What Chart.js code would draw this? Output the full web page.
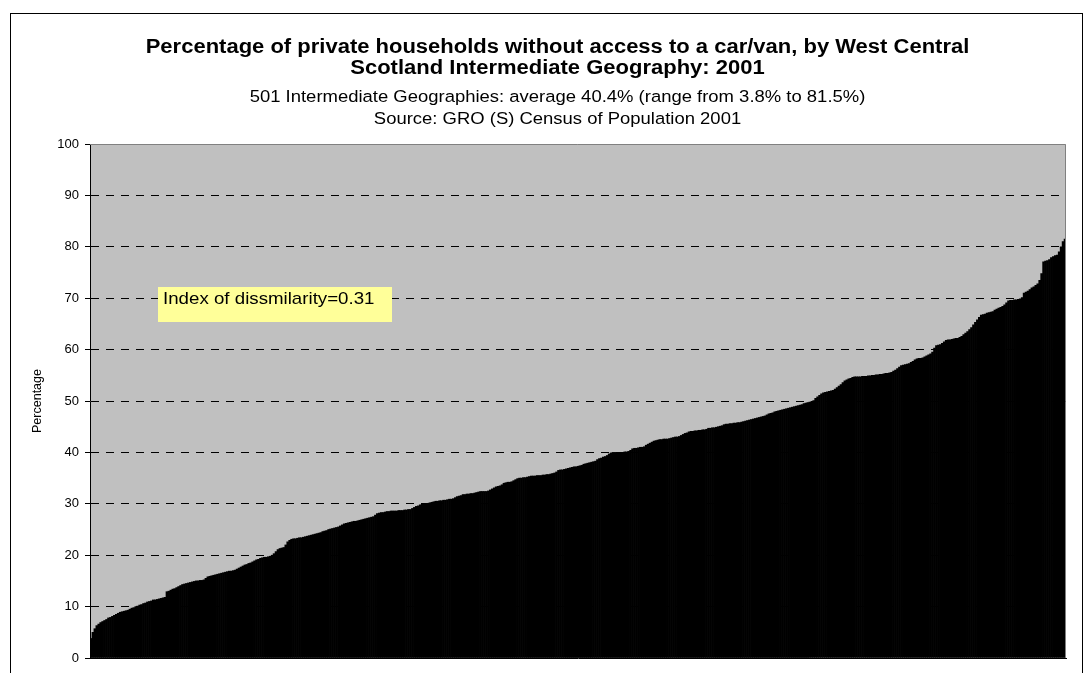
<!DOCTYPE html>
<html>
<head>
<meta charset="utf-8">
<script src="https://cdn.jsdelivr.net/npm/chart.js@4.4.1/dist/chart.umd.min.js"></script>
<style>
  html, body { margin: 0; padding: 0; background: #fff; }
  canvas { display: block; }
</style>
</head>
<body>
<canvas id="chart" width="1091" height="673"></canvas>
<script>
// Chart text
const titleLines = [
  'Percentage of private households without access to a car/van, by West Central',
  'Scotland Intermediate Geography: 2001'
];
const subtitleLines = [
  '501 Intermediate Geographies: average 40.4% (range from 3.8% to 81.5%)',
  'Source: GRO (S) Census of Population 2001'
];
const yAxisTitle = 'Percentage';
const annotationText = 'Index of dissmilarity=0.31';

// Y axis ticks
const yTicks = [0, 10, 20, 30, 40, 50, 60, 70, 80, 90, 100];

// Percentage of households without a car/van, one value per Intermediate Geography, sorted ascending
const percentages = [
  3.8, 5.0, 5.7, 6.3, 6.6, 6.9, 7.1, 7.3, 7.5, 7.8,
  7.9, 8.1, 8.3, 8.5, 8.7, 8.9, 9.0, 9.1, 9.2, 9.3,
  9.5, 9.7, 9.8, 10.0, 10.1, 10.3, 10.4, 10.6, 10.7, 10.9,
  11.0, 11.1, 11.3, 11.3, 11.4, 11.5, 11.6, 11.7, 11.8, 12.9,
  13.0, 13.2, 13.4, 13.5, 13.7, 13.9, 14.1, 14.3, 14.4, 14.5,
  14.6, 14.7, 14.8, 14.9, 15.0, 15.0, 15.1, 15.1, 15.2, 15.5,
  15.8, 15.9, 16.0, 16.1, 16.2, 16.3, 16.4, 16.5, 16.6, 16.7,
  16.8, 16.9, 16.9, 17.0, 17.1, 17.3, 17.5, 17.7, 17.9, 18.1,
  18.2, 18.4, 18.5, 18.7, 18.9, 19.1, 19.2, 19.4, 19.5, 19.6,
  19.6, 19.7, 19.8, 20.0, 20.3, 20.7, 21.1, 21.3, 21.4, 21.5,
  22.0, 22.6, 22.9, 23.1, 23.2, 23.2, 23.3, 23.4, 23.4, 23.5,
  23.6, 23.7, 23.8, 23.9, 24.0, 24.1, 24.2, 24.3, 24.4, 24.6,
  24.7, 24.8, 25.0, 25.1, 25.2, 25.3, 25.4, 25.5, 25.7, 25.9,
  26.1, 26.2, 26.3, 26.4, 26.5, 26.6, 26.6, 26.7, 26.8, 26.9,
  27.0, 27.1, 27.2, 27.3, 27.4, 27.5, 27.8, 28.1, 28.2, 28.3,
  28.3, 28.4, 28.5, 28.5, 28.6, 28.6, 28.6, 28.6, 28.7, 28.7,
  28.7, 28.8, 28.8, 28.9, 28.9, 29.1, 29.3, 29.5, 29.6, 29.8,
  29.9, 30.0, 30.0, 30.1, 30.2, 30.3, 30.4, 30.5, 30.5, 30.6,
  30.6, 30.7, 30.7, 30.8, 30.9, 30.9, 31.0, 31.2, 31.4, 31.5,
  31.6, 31.8, 31.8, 31.9, 31.9, 32.0, 32.0, 32.1, 32.2, 32.3,
  32.4, 32.4, 32.4, 32.4, 32.5, 32.7, 32.9, 33.1, 33.3, 33.4,
  33.5, 33.7, 34.0, 34.1, 34.2, 34.2, 34.3, 34.5, 34.7, 34.9,
  35.0, 35.0, 35.1, 35.1, 35.2, 35.3, 35.4, 35.4, 35.4, 35.5,
  35.5, 35.5, 35.6, 35.6, 35.7, 35.7, 35.8, 35.9, 36.0, 36.2,
  36.5, 36.6, 36.6, 36.7, 36.8, 36.9, 37.0, 37.1, 37.2, 37.2,
  37.3, 37.4, 37.5, 37.7, 37.8, 37.9, 38.0, 38.1, 38.2, 38.3,
  38.6, 38.8, 38.9, 39.1, 39.2, 39.4, 39.7, 39.9, 40.0, 40.0,
  40.0, 40.0, 40.0, 40.0, 40.1, 40.1, 40.2, 40.4, 40.7, 40.8,
  40.8, 40.9, 41.0, 41.0, 41.1, 41.4, 41.6, 41.8, 42.0, 42.2,
  42.3, 42.4, 42.5, 42.5, 42.6, 42.6, 42.6, 42.7, 42.8, 42.9,
  43.0, 43.0, 43.1, 43.3, 43.5, 43.7, 43.8, 44.0, 44.1, 44.1,
  44.2, 44.2, 44.3, 44.3, 44.4, 44.4, 44.5, 44.7, 44.7, 44.8,
  44.8, 44.9, 45.0, 45.1, 45.2, 45.4, 45.5, 45.5, 45.6, 45.6,
  45.7, 45.7, 45.8, 45.8, 45.9, 46.0, 46.1, 46.2, 46.3, 46.4,
  46.5, 46.6, 46.7, 46.8, 46.9, 47.0, 47.1, 47.3, 47.5, 47.6,
  47.7, 47.9, 48.0, 48.1, 48.2, 48.3, 48.4, 48.5, 48.6, 48.7,
  48.8, 48.9, 49.0, 49.1, 49.2, 49.3, 49.5, 49.6, 49.7, 49.8,
  49.9, 50.1, 50.5, 50.8, 51.1, 51.4, 51.6, 51.7, 51.8, 51.9,
  52.0, 52.1, 52.3, 52.6, 52.9, 53.2, 53.6, 53.9, 54.1, 54.3,
  54.4, 54.6, 54.7, 54.7, 54.7, 54.7, 54.8, 54.8, 54.8, 54.9,
  54.9, 55.0, 55.0, 55.1, 55.1, 55.2, 55.2, 55.3, 55.4, 55.4,
  55.5, 55.6, 55.8, 56.0, 56.3, 56.6, 56.9, 57.0, 57.1, 57.2,
  57.3, 57.5, 57.7, 58.0, 58.2, 58.3, 58.3, 58.4, 58.6, 58.8,
  59.0, 59.2, 59.5, 60.3, 60.8, 60.9, 61.0, 61.2, 61.5, 61.8,
  61.9, 61.9, 62.0, 62.1, 62.2, 62.2, 62.4, 62.6, 62.9, 63.2,
  63.5, 63.9, 64.3, 64.8, 65.3, 65.8, 66.3, 66.7, 66.8, 66.9,
  67.1, 67.2, 67.3, 67.4, 67.7, 67.9, 68.1, 68.2, 68.4, 68.7,
  69.1, 69.5, 69.6, 69.6, 69.7, 69.7, 69.8, 69.9, 70.1, 71.0,
  71.2, 71.4, 71.7, 72.0, 72.2, 72.5, 72.8, 73.5, 74.8, 77.1,
  77.2, 77.3, 77.5, 77.9, 78.1, 78.3, 78.4, 79.0, 80.0, 81.0,
  81.5
];

// Category labels: rank of each Intermediate Geography
const categories = percentages.map((_, i) => String(i + 1));

const FONT = "'Liberation Sans', Arial, sans-serif";
const PLOT_BG = '#c0c0c0';
// Slight horizontal widening applied to the heading and box text
const TEXT_STRETCH = 1.1;

// Draw a line of text widened horizontally around its anchor point
function stretchedText(ctx, text, x, y, align) {
  ctx.save();
  ctx.translate(x, y);
  ctx.scale(TEXT_STRETCH, 1);
  ctx.textAlign = align;
  ctx.textBaseline = 'alphabetic';
  ctx.fillText(text, 0, 0);
  ctx.restore();
}

// Background, frame, titles, axis title, plot border and the annotation box
const decorations = {
  id: 'decorations',
  beforeDraw(chart) {
    const { ctx, chartArea: a } = chart;
    ctx.save();
    ctx.fillStyle = '#fff';
    ctx.fillRect(0, 0, chart.width, chart.height);
    ctx.strokeStyle = '#000';
    ctx.lineWidth = 1;
    ctx.strokeRect(10.5, 13.5, 1072, 700);
    ctx.fillStyle = PLOT_BG;
    ctx.fillRect(a.left, a.top, a.right - a.left, a.bottom - a.top);
    ctx.restore();
  },
  afterDraw(chart) {
    const { ctx, chartArea: a } = chart;
    ctx.save();
    // plot area border (top and right)
    ctx.strokeStyle = '#808080';
    ctx.lineWidth = 1;
    ctx.beginPath();
    ctx.moveTo(a.left, a.top + 0.5);
    ctx.lineTo(a.right - 0.5, a.top + 0.5);
    ctx.lineTo(a.right - 0.5, a.bottom);
    ctx.stroke();

    // titles
    ctx.fillStyle = '#000';
    const cx = 557.5;
    ctx.font = 'bold 20px ' + FONT;
    stretchedText(ctx, titleLines[0], cx, 52.5, 'center');
    stretchedText(ctx, titleLines[1], cx, 73.5, 'center');
    ctx.font = '16.8px ' + FONT;
    stretchedText(ctx, subtitleLines[0], cx, 101.5, 'center');
    stretchedText(ctx, subtitleLines[1], cx, 123.5, 'center');

    // y axis title
    ctx.save();
    ctx.translate(38, (a.top + a.bottom) / 2);
    ctx.rotate(-Math.PI / 2);
    ctx.textAlign = 'center';
    ctx.textBaseline = 'middle';
    ctx.font = '12.5px ' + FONT;
    ctx.fillText(yAxisTitle, 0, 0);
    ctx.restore();

    // annotation box
    ctx.fillStyle = '#ffff99';
    ctx.fillRect(158, 287, 234, 35);
    ctx.fillStyle = '#000';
    ctx.font = '17px ' + FONT;
    stretchedText(ctx, annotationText, 163, 303.5, 'left');
    ctx.restore();
  }
};

new Chart(document.getElementById('chart').getContext('2d'), {
  type: 'bar',
  data: {
    labels: categories,
    datasets: [{
      data: percentages,
      backgroundColor: '#000',
      borderWidth: 0,
      barPercentage: 1,
      categoryPercentage: 1
    }]
  },
  options: {
    responsive: false,
    animation: false,
    events: [],
    layout: { padding: { left: 0, top: 144, right: 25, bottom: 15 } },
    plugins: {
      legend: { display: false },
      title: { display: false },
      tooltip: { enabled: false }
    },
    scales: {
      x: {
        grid: { display: false, drawTicks: false },
        ticks: { display: false },
        border: { display: true, color: '#000', width: 1 },
        afterFit(scale) { scale.height = 0; }
      },
      y: {
        min: 0,
        max: 100,
        afterBuildTicks(scale) { scale.ticks = yTicks.map(v => ({ value: v })); },
        afterFit(scale) { scale.width = 90; },
        ticks: {
          color: '#000',
          padding: 6,
          font: { family: FONT, size: 13 }
        },
        grid: {
          color: c => (c.tick && (c.tick.value === 100 || c.tick.value === 0)) ? 'rgba(0,0,0,0)' : '#000',
          lineWidth: 1,
          tickLength: 5,
          tickColor: '#000',
          tickBorderDash: []
        },
        border: { display: true, color: '#000', width: 1, dash: [8, 7] }
      }
    }
  },
  plugins: [decorations]
});
</script>
</body>
</html>
